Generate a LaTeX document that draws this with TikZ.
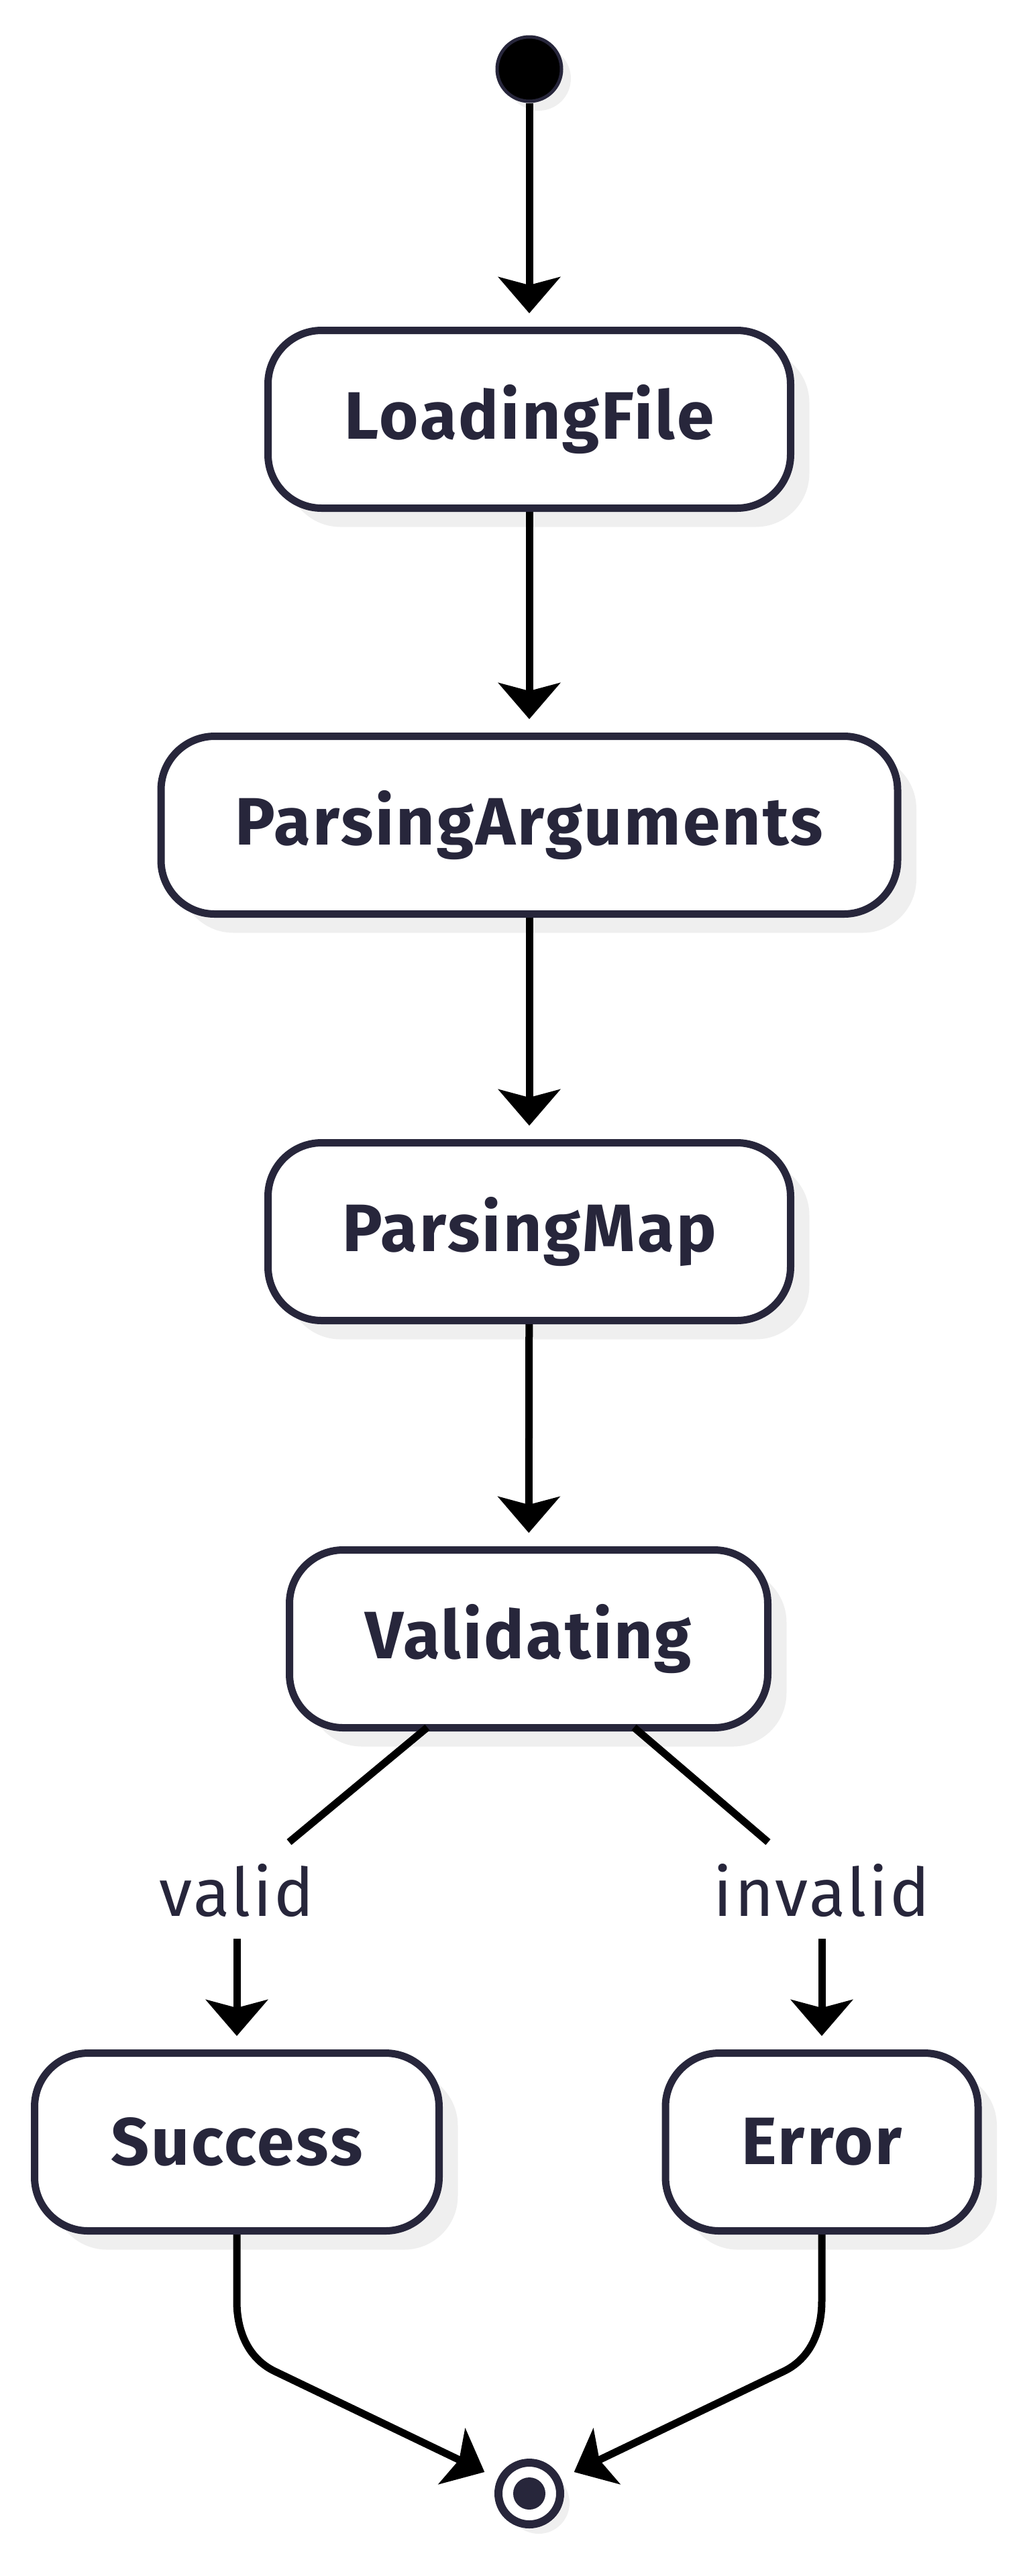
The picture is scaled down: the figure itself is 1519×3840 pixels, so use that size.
\documentclass[tikz,border=0pt]{standalone}
\usepackage{fontspec}
\setmainfont{Fira Sans}[LetterSpace=3]
\usetikzlibrary{arrows.meta,shadows,calc}
\definecolor{ink}{HTML}{27263B}
\definecolor{shade}{HTML}{EFEFEF}
\begin{document}
\begin{tikzpicture}[x=0.5pt,y=-0.5pt,
  shadowed/.style={drop shadow={shadow xshift=14pt,shadow yshift=-14pt,fill=shade,opacity=1}},
  smallshadow/.style={drop shadow={shadow xshift=7pt,shadow yshift=-7pt,fill=shade,opacity=1}},
  state/.style={draw=ink,line width=5.5pt,rounded corners=40pt,fill=white,text=ink,
    font=\fontsize{50}{60}\selectfont\bfseries,inner sep=0pt,minimum height=132.5pt,shadowed},
  lbl/.style={text=ink,font=\fontsize{50}{60}\selectfont,inner sep=2pt},
  edge/.style={draw=black,line width=5.5pt,-{Stealth[length=27pt,width=46pt,inset=6pt]},shorten >=10pt},
  plainedge/.style={draw=black,line width=5.5pt}]
\useasboundingbox (0,0) rectangle (1519,3840);
% nodes
\node[circle,draw=ink,fill=black,line width=2.5pt,minimum size=48pt,inner sep=0pt,smallshadow] (start) at (789,103) {};
\node[state,minimum width=389.5pt] (load) at (789,625) {LoadingFile};
\node[state,minimum width=549pt] (pargs) at (789,1230) {ParsingArguments};
\node[state,minimum width=389.5pt] (pmap) at (789,1836) {ParsingMap};
\node[state,minimum width=356.5pt] (val) at (788,2443) {Validating};
\node[state,minimum width=301.5pt] (succ) at (353,3193) {Success};
\node[state,minimum width=233pt] (err) at (1225,3193) {Error};
\node[circle,draw=ink,fill=white,line width=6pt,minimum size=46pt,inner sep=0pt,smallshadow] (end) at (789,3717) {};
\node[circle,fill=ink,minimum size=24pt,inner sep=0pt] (enddot) at (end) {};
% labels
\node[lbl] (lv) at (353,2818) {valid};
\node[lbl] (li) at (1225,2818) {invalid};
% coordinates
\coordinate (v1) at (431,2746);
\coordinate (v2) at (353,2890);
\coordinate (i1) at (1145,2746);
\coordinate (i2) at (1225,2890);
% edges
\draw[edge] (start) -- (load);
\draw[edge] (load) -- (pargs);
\draw[edge] (pargs) -- (pmap);
\draw[edge] (pmap) -- (val);
\draw[plainedge] ($(val.south)+(-151,-6)$) -- (v1);
\draw[plainedge] ($(val.south)+(157,-6)$) -- (i1);
\draw[edge] (v2) -- (succ);
\draw[edge] (i2) -- (err);
\draw[edge,shorten >=11pt] (succ.south) -- (353,3430) .. controls (353,3478) and (372,3517) .. (410,3535) -- (end);
\draw[edge,shorten >=11pt] (err.south) -- (1225,3430) .. controls (1225,3478) and (1206,3517) .. (1168,3535) -- (end);
\end{tikzpicture}
\end{document}
